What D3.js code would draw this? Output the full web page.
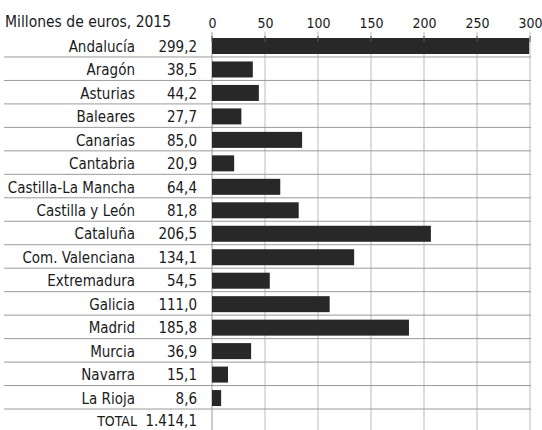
<!DOCTYPE html>
<html>
<head>
<meta charset="utf-8">
<script src="https://cdn.jsdelivr.net/npm/d3@7"></script>
<style>
  body { margin: 0; background: #fff; }
  text { font-family: "DejaVu Sans Condensed", "DejaVu Sans", sans-serif; fill: #1a1a1a; }
</style>
</head>
<body>
<svg id="chart" width="542" height="430"></svg>
<script>
'use strict';

const regions = ['Andalucía', 'Aragón', 'Asturias', 'Baleares', 'Canarias', 'Cantabria',
    'Castilla-La Mancha', 'Castilla y León', 'Cataluña', 'Com. Valenciana', 'Extremadura',
    'Galicia', 'Madrid', 'Murcia', 'Navarra', 'La Rioja'];
const values = [299.2, 38.5, 44.2, 27.7, 85.0, 20.9, 64.4, 81.8, 206.5, 134.1, 54.5,
    111.0, 185.8, 36.9, 15.1, 8.6];
const totalLabel = 'TOTAL';
const totalValue = '1.414,1';
const xTicks = [0, 50, 100, 150, 200, 250, 300];
const title = 'Millones de euros, 2015';

let svg = d3.select('#chart');
let fmt = d3.format('.1f');
let esNum = (v) => fmt(v).replace('.', ',');

let x = d3.scaleLinear().domain([0, 300]).range([212, 530]);
let y = d3.scaleBand()
    .domain(regions.concat([totalLabel]))
    .range([33.5, 33.5 + 17 * 23.47]);

// vertical grid
svg.append('g')
    .selectAll('line')
    .data(xTicks)
    .join('line')
    .attr('x1', d => x(d)).attr('x2', d => x(d))
    .attr('y1', 32).attr('y2', 430)
    .attr('stroke', d => d === 0 ? '#999' : '#bbb')
    .attr('stroke-width', 1);

// row separators
svg.append('g')
    .selectAll('line')
    .data(regions)
    .join('line')
    .attr('x1', 4).attr('x2', 531)
    .attr('y1', d => y(d) + y.bandwidth())
    .attr('y2', d => y(d) + y.bandwidth())
    .attr('stroke', '#9a9a9a')
    .attr('stroke-width', 1);

// bars
svg.append('g')
    .selectAll('rect')
    .data(regions)
    .join('rect')
    .attr('x', x(0))
    .attr('y', d => y(d) + 4.5)
    .attr('width', (d, i) => x(values[i]) - x(0))
    .attr('height', 16)
    .attr('fill', '#282828');

// axis labels on top
let axis = d3.axisTop(x).tickValues(xTicks).tickSize(0).tickPadding(0);
let gAxis = svg.append('g').attr('transform', 'translate(0,28)').call(axis);
gAxis.select('.domain').remove();
gAxis.selectAll('text')
    .style('font-family', '"DejaVu Sans Condensed", "DejaVu Sans", sans-serif')
    .style('font-size', '14px')
    .attr('fill', '#1a1a1a');

// short tick marks under the labels
svg.append('g')
    .selectAll('line')
    .data(xTicks)
    .join('line')
    .attr('x1', d => x(d)).attr('x2', d => x(d))
    .attr('y1', 36).attr('y2', 42)
    .attr('stroke', '#555');

// title
svg.append('text')
    .attr('x', 5).attr('y', 27)
    .style('font-size', '15.5px')
    .text(title);

// region names and values
let rows = svg.append('g')
    .selectAll('g')
    .data(regions)
    .join('g')
    .attr('transform', d => `translate(0,${y(d) + y.bandwidth() / 2 + 2})`);

rows.append('text')
    .attr('x', 135)
    .attr('text-anchor', 'end')
    .attr('dominant-baseline', 'middle')
    .style('font-size', '15px')
    .text(d => d);

rows.append('text')
    .attr('x', 197)
    .attr('text-anchor', 'end')
    .attr('dominant-baseline', 'middle')
    .style('font-size', '15px')
    .text((d, i) => esNum(values[i]));

// total row
let totalY = y(totalLabel) + y.bandwidth() / 2 + 1;
svg.append('text')
    .attr('x', 137).attr('y', totalY)
    .attr('text-anchor', 'end')
    .attr('dominant-baseline', 'middle')
    .style('font-size', '14px')
    .text(totalLabel);
svg.append('text')
    .attr('x', 197).attr('y', totalY)
    .attr('text-anchor', 'end')
    .attr('dominant-baseline', 'middle')
    .style('font-size', '15px')
    .text(totalValue);
</script>
</body>
</html>
